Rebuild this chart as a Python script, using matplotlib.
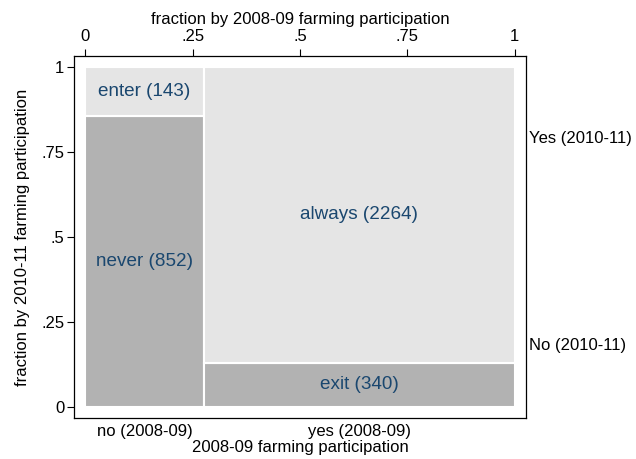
import matplotlib
matplotlib.use("Agg")
import matplotlib.pyplot as plt
import numpy as np

plt.rcParams["font.family"] = ["Liberation Sans", "DejaVu Sans"]

# 2008-09 participation categories (columns)
columns = ["no (2008-09)", "yes (2008-09)"]
# 2010-11 participation: counts in each column
counts_no_1011 = [852, 340]     # never, exit
counts_yes_1011 = [143, 2264]   # enter, always
names_no_1011 = ["never", "exit"]
names_yes_1011 = ["enter", "always"]
row_labels = ["No (2010-11)", "Yes (2010-11)"]
top_ticks = [0, 0.25, 0.5, 0.75, 1]
top_ticklabels = ["0", ".25", ".5", ".75", "1"]
left_ticks = [0, 0.25, 0.5, 0.75, 1]
left_ticklabels = ["0", ".25", ".5", ".75", "1"]

dark = "#b2b2b2"
light = "#e5e5e5"
label_color = "#1a476f"

no_arr = np.array(counts_no_1011, dtype=float)
yes_arr = np.array(counts_yes_1011, dtype=float)
col_tot = no_arr + yes_arr
widths = col_tot / col_tot.sum()
lefts = np.concatenate([[0], np.cumsum(widths)[:-1]])
frac_no = no_arr / col_tot
frac_yes = yes_arr / col_tot

fig = plt.figure(figsize=(6.36, 4.59), dpi=100)
ax = fig.add_axes([74 / 636, 1 - 418 / 459, (526 - 74) / 636, (418 - 56) / 459])

ax.bar(lefts, frac_no, width=widths, bottom=0, align="edge",
       color=dark, edgecolor="white", linewidth=1.5)
ax.bar(lefts, frac_yes, width=widths, bottom=frac_no, align="edge",
       color=light, edgecolor="white", linewidth=1.5)

fs = 12.0
cfs = 13.6
for i in range(len(columns)):
    cx = lefts[i] + widths[i] / 2
    ax.text(cx, frac_no[i] / 2, f"{names_no_1011[i]} ({counts_no_1011[i]})",
            ha="center", va="center", color=label_color, fontsize=cfs)
    ax.text(cx, frac_no[i] + frac_yes[i] / 2, f"{names_yes_1011[i]} ({counts_yes_1011[i]})",
            ha="center", va="center", color=label_color, fontsize=cfs)

ax.set_xlim(-0.026, 1.026)
ax.set_ylim(-0.032, 1.032)

# top axis: fraction scale
ax.xaxis.tick_top()
ax.xaxis.set_label_position("top")
ax.set_xticks(top_ticks)
ax.set_xticklabels(top_ticklabels, fontsize=fs)
ax.set_xlabel("fraction by 2008-09 farming participation", fontsize=fs, labelpad=3.5)
ax.tick_params(axis="x", length=5, width=0.8, pad=3.5)

ax.set_yticks(left_ticks)
ax.set_yticklabels(left_ticklabels, fontsize=fs)
ax.set_ylabel("fraction by 2010-11 farming participation", fontsize=fs, labelpad=8)
ax.tick_params(axis="y", length=5, width=0.8, pad=2)

# bottom axis: column categories
centers = lefts + widths / 2
bx = ax.secondary_xaxis("bottom")
bx.set_xticks(centers)
bx.set_xticklabels(columns, fontsize=fs)
bx.tick_params(length=0, pad=4)
bx.set_xlabel("2008-09 farming participation", fontsize=fs, labelpad=1)

# right axis: row categories
ry = ax.secondary_yaxis("right")
ry.set_yticks([0.185, 0.795])
ry.set_yticklabels(row_labels, fontsize=fs)
ry.tick_params(length=0, pad=2)

for s in ax.spines.values():
    s.set_linewidth(0.9)
for s in bx.spines.values():
    s.set_visible(False)
for s in ry.spines.values():
    s.set_visible(False)

fig.savefig("out.png", dpi=100)
